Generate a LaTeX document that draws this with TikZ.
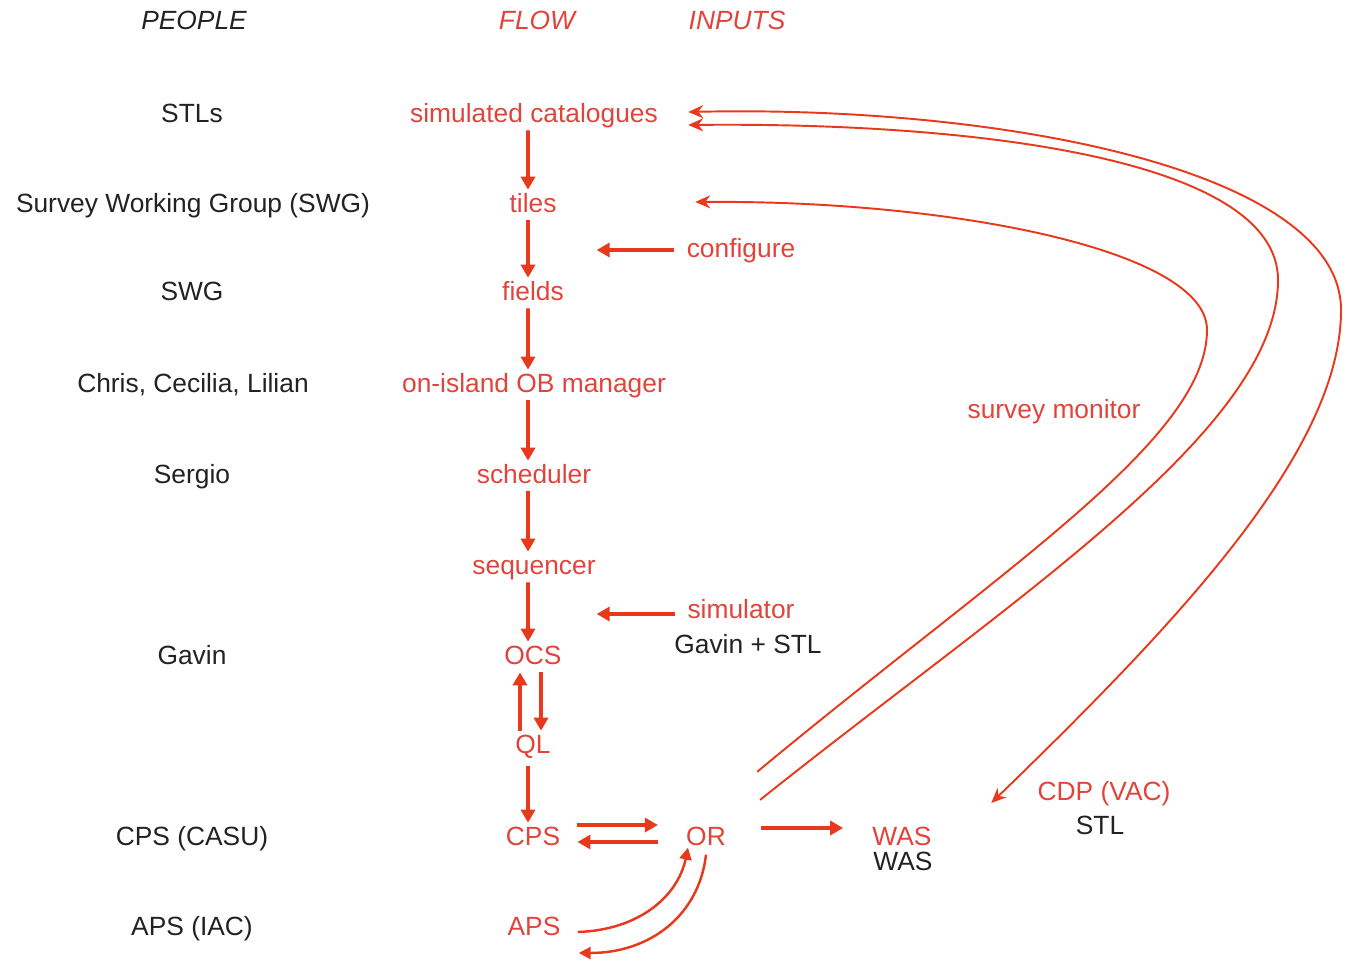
\documentclass[tikz,border=0pt]{standalone}
\usepackage{fontspec}
\setmainfont{Liberation Sans}
\usepackage{tikz}
\usetikzlibrary{arrows.meta,positioning,calc}
\definecolor{flowred}{HTML}{E8391D}
\definecolor{labelred}{HTML}{E2433A}
\definecolor{ink}{HTML}{222222}
\tikzset{
  person/.style={text=ink,inner sep=0pt,text height=11pt,text depth=3pt,
    font=\fontsize{15}{18}\selectfont},
  flowitem/.style={person,text=labelred},
  heading/.style={person,font=\fontsize{15}{18}\selectfont\itshape},
  flowarrow/.style={-{Triangle[length=0.26cm,width=0.28cm]},draw=flowred,
    line width=2.2pt,shorten <=1.5pt,shorten >=1.5pt},
  backarrow/.style={-{Triangle[length=0.24cm,width=0.24cm]},draw=flowred,line width=1.4pt},
  feedback/.style={-{Stealth[length=0.3cm,width=0.26cm]},draw=flowred,line width=1.1pt}
}
\begin{document}
\begin{tikzpicture}
  \useasboundingbox (0,0) rectangle (26.94,-19.2);
  % headings
  \node[heading] (hdpeople) at (3.88,-0.44) {PEOPLE};
  \node[heading,text=labelred] (hdflow) at (10.74,-0.44) {FLOW};
  \node[heading,text=labelred] (hdinputs) at (14.74,-0.44) {INPUTS};
  % people
  \node[person] (pstl) at (3.84,-2.30) {STLs};
  \node[person] (pswg) at (3.86,-4.10) {Survey Working Group (SWG)};
  \node[person] (pswgb) at (3.84,-5.86) {SWG};
  \node[person] (pchris) at (3.86,-7.70) {Chris, Cecilia, Lilian};
  \node[person] (psergio) at (3.84,-9.52) {Sergio};
  \node[person] (pgavin) at (3.84,-13.14) {Gavin};
  \node[person] (pcasu) at (3.84,-16.76) {CPS (CASU)};
  \node[person] (piac) at (3.84,-18.56) {APS (IAC)};
  % flow
  \node[flowitem] (cat) at (10.68,-2.30) {simulated catalogues};
  \node[flowitem] (tiles) at (10.66,-4.10) {tiles};
  \node[flowitem] (fields) at (10.66,-5.86) {fields};
  \node[flowitem] (obm) at (10.68,-7.70) {on-island OB manager};
  \node[flowitem] (sched) at (10.68,-9.52) {scheduler};
  \node[flowitem] (seq) at (10.68,-11.34) {sequencer};
  \node[flowitem] (ocs) at (10.66,-13.14) {OCS};
  \node[flowitem] (ql) at (10.66,-14.92) {QL};
  \node[flowitem] (cps) at (10.66,-16.76) {CPS};
  \node[flowitem] (aps) at (10.68,-18.56) {APS};
  \node[flowitem] (ornode) at (14.12,-16.76) {OR};
  \node[flowitem] (was) at (18.04,-16.76) {WAS};
  \node[person] (wasppl) at (18.06,-17.26) {WAS};
  \node[flowitem] (cdp) at (22.08,-15.86) {CDP (VAC)};
  \node[person] (cdpppl) at (22.00,-16.54) {STL};
  % inputs
  \node[flowitem] (cfg) at (14.82,-5.00) {configure};
  \coordinate (cfgend) at (11.88,-5.00);
  \node[flowitem] (sim) at (14.82,-12.22) {simulator};
  \node[person] (simppl) at (14.96,-12.92) {Gavin + STL};
  \coordinate (simend) at (11.88,-12.28);
  \node[flowitem] (mon) at (21.08,-8.22) {survey monitor};

  % main chain
  \draw[flowarrow] ([xshift=-0.12cm]cat.south) -- ([xshift=-0.1cm]tiles.north);
  \draw[flowarrow] ([xshift=-0.1cm]tiles.south) -- ([xshift=-0.1cm]fields.north);
  \draw[flowarrow] ([xshift=-0.1cm]fields.south) -- ([xshift=-0.12cm]obm.north);
  \draw[flowarrow] ([xshift=-0.12cm]obm.south) -- ([xshift=-0.12cm]sched.north);
  \draw[flowarrow] ([xshift=-0.12cm]sched.south) -- ([xshift=-0.12cm]seq.north);
  \draw[flowarrow] ([xshift=-0.12cm]seq.south) -- ([xshift=-0.1cm]ocs.north);
  \draw[flowarrow] ([xshift=-0.26cm]ql.north) -- ([xshift=-0.26cm]ocs.south);
  \draw[flowarrow] ([xshift=0.16cm]ocs.south) -- ([xshift=0.16cm]ql.north);
  \draw[flowarrow,shorten <=4pt] ([xshift=-0.1cm]ql.south) -- ([xshift=-0.1cm]cps.north);
  % inputs
  \draw[flowarrow,shorten <=0.24cm] (cfg.west) -- (cfgend);
  \draw[flowarrow,shorten <=0.24cm] (sim.west |- simend) -- (simend);
  % CPS, OR, WAS
  \draw[flowarrow,shorten <=0.34cm,shorten >=0.56cm]
    ([yshift=0.26cm]cps.east) -- ([yshift=0.26cm]ornode.west);
  \draw[flowarrow,shorten <=0.56cm,shorten >=0.34cm]
    ([yshift=-0.08cm]ornode.west) -- ([yshift=-0.08cm]cps.east);
  \draw[flowarrow,shorten <=0.7cm,shorten >=0.58cm]
    ([yshift=0.2cm]ornode.east) -- ([yshift=0.2cm]was.west);
  % APS loop
  \draw[backarrow] ([shift={(0.34,-0.08)}]aps.east)
    .. controls +(1.24,0.04) and +(-0.2,-0.96) .. ([shift={(-0.36,0.06)}]ornode.south);
  \draw[backarrow] ([yshift=-0.08cm]ornode.south)
    .. controls +(-0.14,-1.22) and +(1.42,0) .. ([shift={(0.36,-0.5)}]aps.east);
  % survey monitor feedback
  \draw[feedback] ([shift={(0.62,1.07)}]ornode.north east)
    .. controls (20,-11.4) and (24.14,-8.8) .. (24.14,-6.6)
    .. controls (24.14,-5.0) and (19,-4.0) .. ([shift={(2.77,0.06)}]tiles.east);
  \draw[feedback] ([shift={(0.68,0.51)}]ornode.north east)
    .. controls (20.2,-12.0) and (25.56,-8.6) .. (25.56,-5.6)
    .. controls (25.56,-3.2) and (19.6,-2.44) .. ([shift={(0.6,-0.2)}]cat.east);
  \draw[feedback,{Stealth[length=0.3cm,width=0.26cm]}-{Stealth[length=0.3cm,width=0.26cm]}]
    ([shift={(0.6,0.06)}]cat.east)
    .. controls (20,-2.1) and (26.82,-3.4) .. (26.82,-6.2)
    .. controls (26.82,-9.0) and (23.6,-12.4) .. ([shift={(-0.92,-0.2)}]cdp.west);
\end{tikzpicture}
\end{document}
